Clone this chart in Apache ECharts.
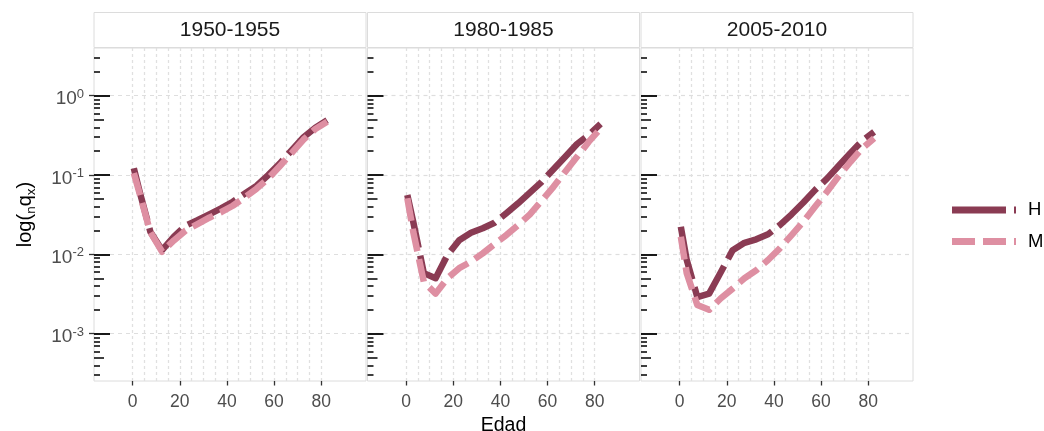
<!DOCTYPE html>
<html><head><meta charset="utf-8">
<script src="https://cdn.jsdelivr.net/npm/echarts@6/dist/echarts.min.js"></script>
<style>html,body{margin:0;padding:0;background:#fff}#c{width:1044px;height:431px}</style>
</head><body><div id="c"></div>
<script>
// ---- data ----
const panels = ['1950-1955', '1980-1985', '2005-2010'];
const ages = [0.5, 3, 7.5, 12.5, 17.5, 22.5, 27.5, 32.5, 37.5, 42.5, 47.5, 52.5, 57.5, 62.5, 67.5, 72.5, 77.5, 82.5];
const qH_1950 = [0.122, 0.061, 0.0193, 0.0113, 0.0167, 0.023, 0.027, 0.032, 0.038, 0.046, 0.058, 0.073, 0.1, 0.14, 0.206, 0.3, 0.395, 0.49];
const qM_1950 = [0.106, 0.058, 0.019, 0.0108, 0.015, 0.02, 0.024, 0.029, 0.034, 0.041, 0.052, 0.067, 0.09, 0.13, 0.19, 0.28, 0.38, 0.47];
const qH_1980 = [0.056, 0.0258, 0.0058, 0.005, 0.0098, 0.0151, 0.0187, 0.0213, 0.025, 0.033, 0.044, 0.06, 0.082, 0.118, 0.17, 0.246, 0.32, 0.44];
const qM_1980 = [0.051, 0.0193, 0.0045, 0.0032, 0.005, 0.0067, 0.0081, 0.0103, 0.0135, 0.0175, 0.0234, 0.032, 0.0474, 0.071, 0.11, 0.17, 0.263, 0.387];
const qH_2005 = [0.0223, 0.0085, 0.0029, 0.0032, 0.006, 0.0113, 0.014, 0.0155, 0.0179, 0.0234, 0.032, 0.045, 0.065, 0.09, 0.131, 0.19, 0.27, 0.35];
const qM_2005 = [0.0167, 0.0058, 0.0023, 0.002, 0.0028, 0.0037, 0.005, 0.0063, 0.0085, 0.0119, 0.0175, 0.0258, 0.04, 0.0615, 0.097, 0.147, 0.217, 0.29];
const seriesNames = ['H', 'M'];
const xTickValues = [0, 20, 40, 60, 80];
const xGridValues = [0, 5, 10, 15, 20, 25, 30, 35, 40, 45, 50, 55, 60, 65, 70, 75, 80];
const yTickValues = [0.001, 0.01, 0.1, 1];
const yMidTicks = [0.0005, 0.005, 0.05, 0.5];
const yShortTicks = [0.0003, 0.0004, 0.0006, 0.0007, 0.0008, 0.0009,
  0.002, 0.003, 0.004, 0.006, 0.007, 0.008, 0.009,
  0.02, 0.03, 0.04, 0.06, 0.07, 0.08, 0.09,
  0.2, 0.3, 0.4, 0.6, 0.7, 0.8, 0.9, 2, 3];
const dataH = [qH_1950, qH_1980, qH_2005];
const dataM = [qM_1950, qM_1980, qM_2005];

// ---- layout / style ----
const FONT = "'Liberation Sans', Arial, sans-serif";
const colH = '#8a3b53', colM = '#de8fa2';
const dashH = [54, 8], dashM = [23, 8];
const gridLeft = [94, 367.5, 641], gridW = 272, gridTop = 48, gridH = 333;
const X_MIN = -16.4, X_MAX = 99.0;
const Y_MIN = 2.535e-4, Y_MAX = 3.99;

const grids = [], xAxes = [], yAxes = [], series = [], graphics = [];
for (let i = 0; i < 3; i++) {
  grids.push({left: gridLeft[i], top: gridTop, width: gridW, height: gridH,
    containLabel: false, outerBoundsMode: 'none',
    show: true, borderColor: '#dcdcdc', borderWidth: 1, backgroundColor: 'transparent'});
  xAxes.push({
    type: 'value', gridIndex: i, min: X_MIN, max: X_MAX,
    axisLine: {show: false, onZero: false},
    axisTick: {show: true, length: 4.5, lineStyle: {color: '#333', width: 1.3}, customValues: xTickValues},
    axisLabel: {show: true, customValues: xTickValues, color: '#4d4d4d', fontSize: 17.5, fontFamily: FONT, margin: 12},
    splitLine: {show: false},
    name: i === 1 ? 'Edad' : '', nameLocation: 'middle', nameGap: 33,
    nameTextStyle: {color: '#000', fontSize: 19.5, fontFamily: FONT}
  });
  xAxes.push({
    type: 'value', gridIndex: i, min: X_MIN, max: X_MAX, position: 'bottom',
    axisLine: {show: false, onZero: false}, axisLabel: {show: false},
    axisTick: {show: true, length: 0, lineStyle: {color: 'rgba(0,0,0,0)'}, customValues: xGridValues},
    splitLine: {show: true, lineStyle: {color: '#e0e0e0', width: 1.3, type: [3, 3]}}
  });
  yAxes.push({
    type: 'log', logBase: 10, gridIndex: i, min: Y_MIN, max: Y_MAX,
    axisLine: {show: false, onZero: false},
    axisTick: {show: i === 0, inside: false, length: 5, lineStyle: {color: '#333', width: 1.3}, customValues: yTickValues},
    axisLabel: {show: i === 0, customValues: yTickValues, margin: 10,
      formatter: v => '{b|10}{p|' + Math.round(Math.log10(v)) + '}',
      rich: {b: {fontSize: 19, color: '#4d4d4d', fontFamily: FONT, verticalAlign: 'bottom', lineHeight: 26},
             p: {fontSize: 13, color: '#4d4d4d', fontFamily: FONT, verticalAlign: 'bottom', padding: [0, 0, 8, 0]}}},
    splitLine: {show: true, lineStyle: {color: '#dedede', width: 1.2, type: [4, 4]}},
    name: i === 0 ? '{b|log(}{s|n}{b|q}{s|x}{b|)}' : '', nameLocation: 'middle', nameGap: 56,
    nameTextStyle: {rich: {
      b: {fontSize: 20, color: '#000', fontFamily: FONT, verticalAlign: 'middle', lineHeight: 26},
      s: {fontSize: 13.5, color: '#000', fontFamily: FONT, verticalAlign: 'bottom', lineHeight: 22}}}
  });
  const tickAxis = (vals, len, w) => ({
    type: 'log', logBase: 10, gridIndex: i, min: Y_MIN, max: Y_MAX, position: 'left',
    axisLine: {show: false, onZero: false}, axisLabel: {show: false}, splitLine: {show: false},
    axisTick: {show: true, inside: true, length: len, customValues: vals, lineStyle: {color: '#000', width: w}}
  });
  yAxes.push(tickAxis(yTickValues, 16, 1.8));
  yAxes.push(tickAxis(yMidTicks, 10, 1.5));
  yAxes.push(tickAxis(yShortTicks, 6, 1.5));

  [dataH[i], dataM[i]].forEach((arr, k) => {
    series.push({
      type: 'line', name: seriesNames[k], xAxisIndex: 2 * i, yAxisIndex: 4 * i,
      data: ages.map((a, j) => [a, arr[j]]),
      showSymbol: false, symbol: 'none', smooth: false, animation: false,
      lineStyle: {color: k === 0 ? colH : colM, width: 6.5, cap: 'butt', join: 'round',
        type: k === 0 ? dashH : dashM},
      itemStyle: {color: k === 0 ? colH : colM}
    });
  });

  graphics.push({type: 'rect', shape: {x: gridLeft[i], y: 12.5, width: gridW, height: 35},
    style: {fill: '#fff', stroke: '#dcdcdc', lineWidth: 1}, z: 10});
  graphics.push({type: 'text', x: gridLeft[i] + gridW / 2, y: 30, z: 11,
    style: {text: panels[i], fill: '#1a1a1a', font: '21px ' + FONT, textAlign: 'center', textVerticalAlign: 'middle'}});
}

// legend key shapes follow the dash patterns of the lines (64 px wide keys)
const keyPath = dash => {
  let p = '', x = 0, on = true, idx = 0;
  while (x < 64) {
    const len = Math.min(dash[idx % 2], 64 - x);
    if (on) p += 'M' + x + ',0H' + (x + len) + 'V7H' + x + 'Z';
    x += len; on = !on; idx++;
  }
  return 'path://' + p;
};

const chart = echarts.init(document.getElementById('c'), null, {renderer: 'canvas'});
chart.setOption({
  animation: false,
  backgroundColor: '#fff',
  grid: grids, xAxis: xAxes, yAxis: yAxes, series: series,
  legend: {data: [{name: 'H', icon: keyPath(dashH)}, {name: 'M', icon: keyPath(dashM)}],
    orient: 'vertical', left: 952, top: 200, padding: 0, itemWidth: 64, itemHeight: 7, itemGap: 11.6,
    symbolKeepAspect: false, selectedMode: false,
    itemStyle: {borderWidth: 0},
    textStyle: {fontSize: 18.5, color: '#000', fontFamily: FONT, padding: [0, 0, 0, 7], lineHeight: 20}},
  graphic: graphics
});
</script></body></html>
